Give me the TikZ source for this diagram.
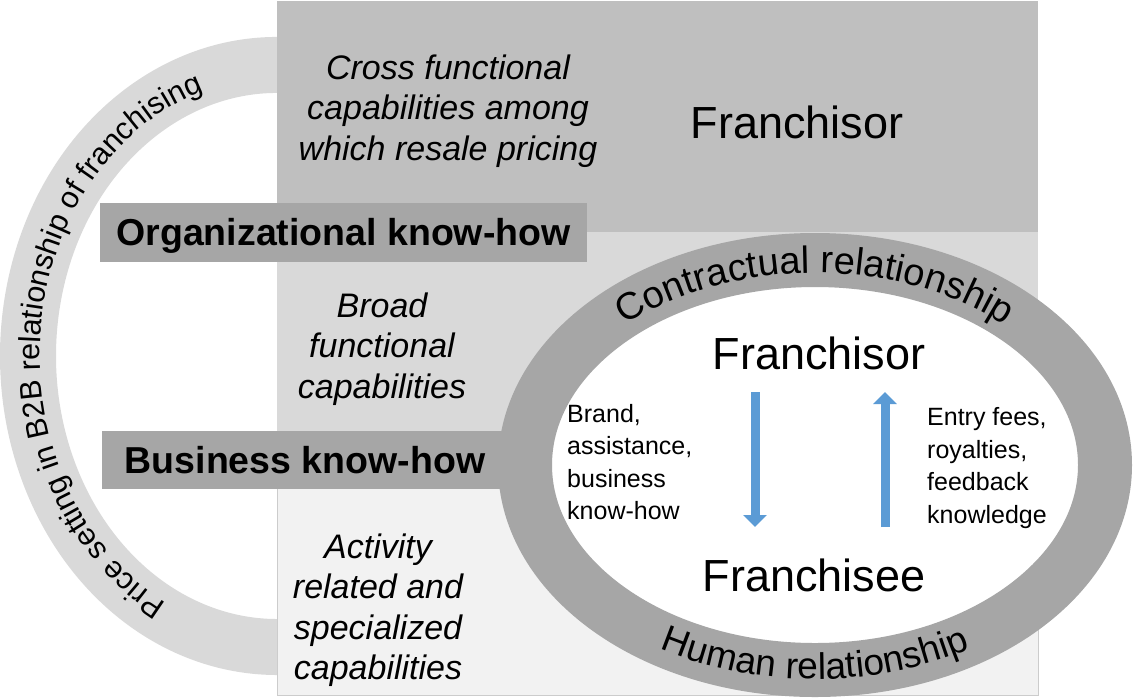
\documentclass[tikz,border=0pt]{standalone}
\usepackage{fontspec}
\setmainfont{Liberation Sans}
\usepackage{tikz}
\usetikzlibrary{positioning,arrows.meta,decorations.text}

\definecolor{bandtop}{HTML}{BFBFBF}
\definecolor{bandmid}{HTML}{D9D9D9}
\definecolor{bandlow}{HTML}{F2F2F2}
\definecolor{bargray}{HTML}{A6A6A6}
\definecolor{arcgray}{HTML}{D9D9D9}
\definecolor{flowblue}{HTML}{5B9BD5}

\tikzset{
	captext/.style={font=\fontsize{34}{40.5}\selectfont\itshape, align=center, inner sep=0pt},
	knowbar/.style={fill=bargray, font=\fontsize{37.5}{40}\selectfont\bfseries, inner sep=0pt},
	partyname/.style={font=\fontsize{45}{50}\selectfont, inner sep=0pt},
	flowtext/.style={font=\fontsize{25}{32.5}\selectfont, align=left, inner sep=0pt},
	flowarrow/.style={line width=9pt, draw=flowblue, -{Triangle[width=23pt,length=12pt]}},
}

\begin{document}
\begin{tikzpicture}[x=1pt,y=1pt]
	\useasboundingbox (0,0) rectangle (1134,-697);

	%% PRICE SETTING arc
	\coordinate (arcc) at (277,-356);
	\draw[arcgray, line width=56pt] ([shift={(arcc)}]80:249 and 291) arc[start angle=80, end angle=280, x radius=249, y radius=291];
	\path[decorate, decoration={text along path, text align=center,
		text={|\fontsize{30.5}{30.5}\selectfont|Price setting in B2B relationship of franchising}}]
		([shift={(arcc)}]263:237 and 279) arc[start angle=263, end angle=87, x radius=237, y radius=279];

	%% KNOW-HOW bands
	\fill[bandtop] (277,-1) rectangle (1038,-232);
	\fill[bandmid] (277,-232) rectangle (1038,-460);
	\draw[fill=bandlow, draw=gray!40, line width=1pt] (277,-460) rectangle (1038,-695);

	\node[captext] (cross) at (448,-111) {Cross functional\\capabilities among\\which resale pricing};
	\node[partyname] (franchisor_top) at (797,-122) {Franchisor};
	\node[captext] (broad) at (382,-349) {Broad\\functional\\capabilities};
	\node[captext] (activity) at (378,-610) {Activity\\related and\\specialized\\capabilities};

	\node[knowbar, minimum width=487pt, minimum height=59pt] (org_bar) at (343.5,-232.5) {};
	\node[font=\fontsize{37.5}{40}\selectfont\bfseries, yshift=-3pt] (org_text) at (org_bar) {Organizational know-how};
	\node[knowbar, minimum width=406pt, minimum height=58pt] (bus_bar) at (305,-460) {};
	\node[font=\fontsize{37.5}{40}\selectfont\bfseries] (bus_text) at (bus_bar) {Business know-how};

	%% RELATIONSHIP ellipse
	\coordinate (ellc) at (815,-465);
	\draw[bargray, fill=white, line width=54pt] (ellc) ellipse[x radius=290, y radius=205];
	\path[decorate, decoration={text along path, text align=center,
		text={|\fontsize{38}{38}\selectfont|Contractual relationship}}]
		([shift={(ellc)}]165:277 and 192) arc[start angle=165, end angle=15, x radius=277, y radius=192];
	\path[decorate, decoration={text along path, text align=center,
		text={|\fontsize{37}{37}\selectfont|Human relationship}}]
		([shift={(ellc)}]205:303 and 214) arc[start angle=205, end angle=335, x radius=303, y radius=214];

	\node[partyname] (franchisor) at (819,-353) {Franchisor};
	\node[partyname] (franchisee) at (814,-575) {Franchisee};

	\coordinate (give_top) at (755,-392);
	\coordinate (give_tip) at (755,-527);
	\coordinate (pay_low) at (885,-527);
	\coordinate (pay_tip) at (885,-392);
	\draw[flowarrow] (give_top) -- (give_tip);
	\draw[flowarrow] (pay_low) -- (pay_tip);

	\node[flowtext, anchor=west] (give_text) at (567,-462) {Brand,\\assistance,\\business\\know-how};
	\node[flowtext, anchor=west] (pay_text) at (927,-468) {Entry fees,\\royalties,\\feedback\\knowledge};

\end{tikzpicture}
\end{document}
